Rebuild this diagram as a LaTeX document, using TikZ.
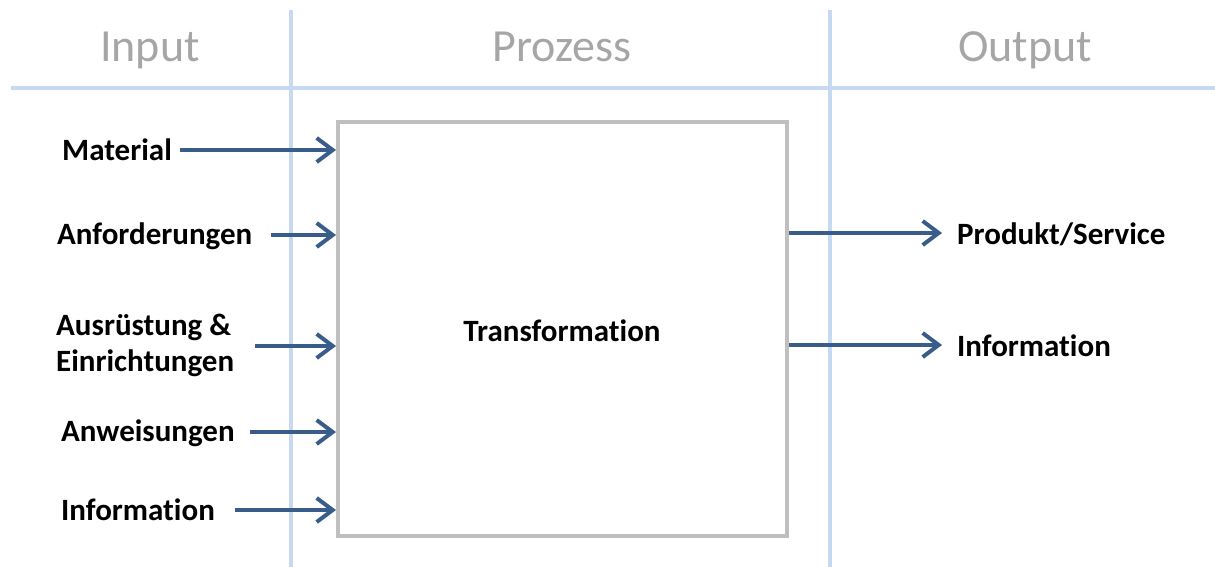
\documentclass[tikz,border=0pt]{standalone}
\usepackage{fontspec}
\setmainfont[Ligatures={NoCommon}]{Carlito}
\usetikzlibrary{arrows.meta}
\definecolor{gridblue}{RGB}{198,217,241}
\definecolor{boxgray}{RGB}{191,191,191}
\definecolor{arrowblue}{RGB}{56,93,138}
\definecolor{headgray}{RGB}{166,166,166}
\tikzset{
  grid/.style={draw=gridblue, line width=4pt},
  head/.style={text=headgray, font=\fontsize{46}{50}\selectfont, inner sep=0pt, anchor=base},
  lab/.style={font=\bfseries\fontsize{31}{36}\selectfont, inner sep=0pt, anchor=west, align=left},
  flow/.style={draw=arrowblue, line width=4pt, -{Straight Barb[length=16pt,width=24pt,line width=4pt]}},
}
\begin{document}
\begin{tikzpicture}[x=1pt,y=-1pt]
\useasboundingbox (0,0) rectangle (1215,567);
% grid lines
\coordinate (hl) at (11,88);
\coordinate (hr) at (1215,88);
\coordinate (v1t) at (291,10);
\coordinate (v1b) at (291,567);
\coordinate (v2t) at (830,10);
\coordinate (v2b) at (830,567);
\draw[grid] (hl) -- (hr);
\draw[grid] (v1t) -- (v1b);
\draw[grid] (v2t) -- (v2b);
% headers
\node[head] (hin) at (150,62) {Input};
\node[head] (hpr) at (562,62) {Prozess};
\node[head] (hout) at (1025,62) {Output};
% process box
\node[draw=boxgray, line width=4pt, minimum width=449pt, minimum height=414pt, inner sep=0pt] (box) at (562.5,329) {};
\node[lab, anchor=center] (tr) at (562,331) {Transformation};
% input labels
\node[lab] (l1) at (62,150) {Material};
\node[lab] (l2) at (57,236) {Anforderungen};
\node[lab] (l3) at (56,345) {Ausrüstung \&\\Einrichtungen};
\node[lab] (l4) at (61,433) {Anweisungen};
\node[lab] (l5) at (61,510) {Information};
% output labels
\node[lab] (r1) at (957,234) {Produkt/Service};
\node[lab] (r2) at (957,346) {Information};
% input arrows
\coordinate (a1) at (180,150);
\coordinate (a2) at (271,235);
\coordinate (a3) at (255,346);
\coordinate (a4) at (250,432);
\coordinate (a5) at (235,510);
\draw[flow] (a1) -- (a1 -| box.west);
\draw[flow] (a2) -- (a2 -| box.west);
\draw[flow] (a3) -- (a3 -| box.west);
\draw[flow] (a4) -- (a4 -| box.west);
\draw[flow] (a5) -- (a5 -| box.west);
% output arrows
\coordinate (b1) at (789,233);
\coordinate (b2) at (789,345);
\coordinate (e1) at (942,233);
\coordinate (e2) at (942,345);
\draw[flow] (b1) -- (e1);
\draw[flow] (b2) -- (e2);
\end{tikzpicture}
\end{document}
